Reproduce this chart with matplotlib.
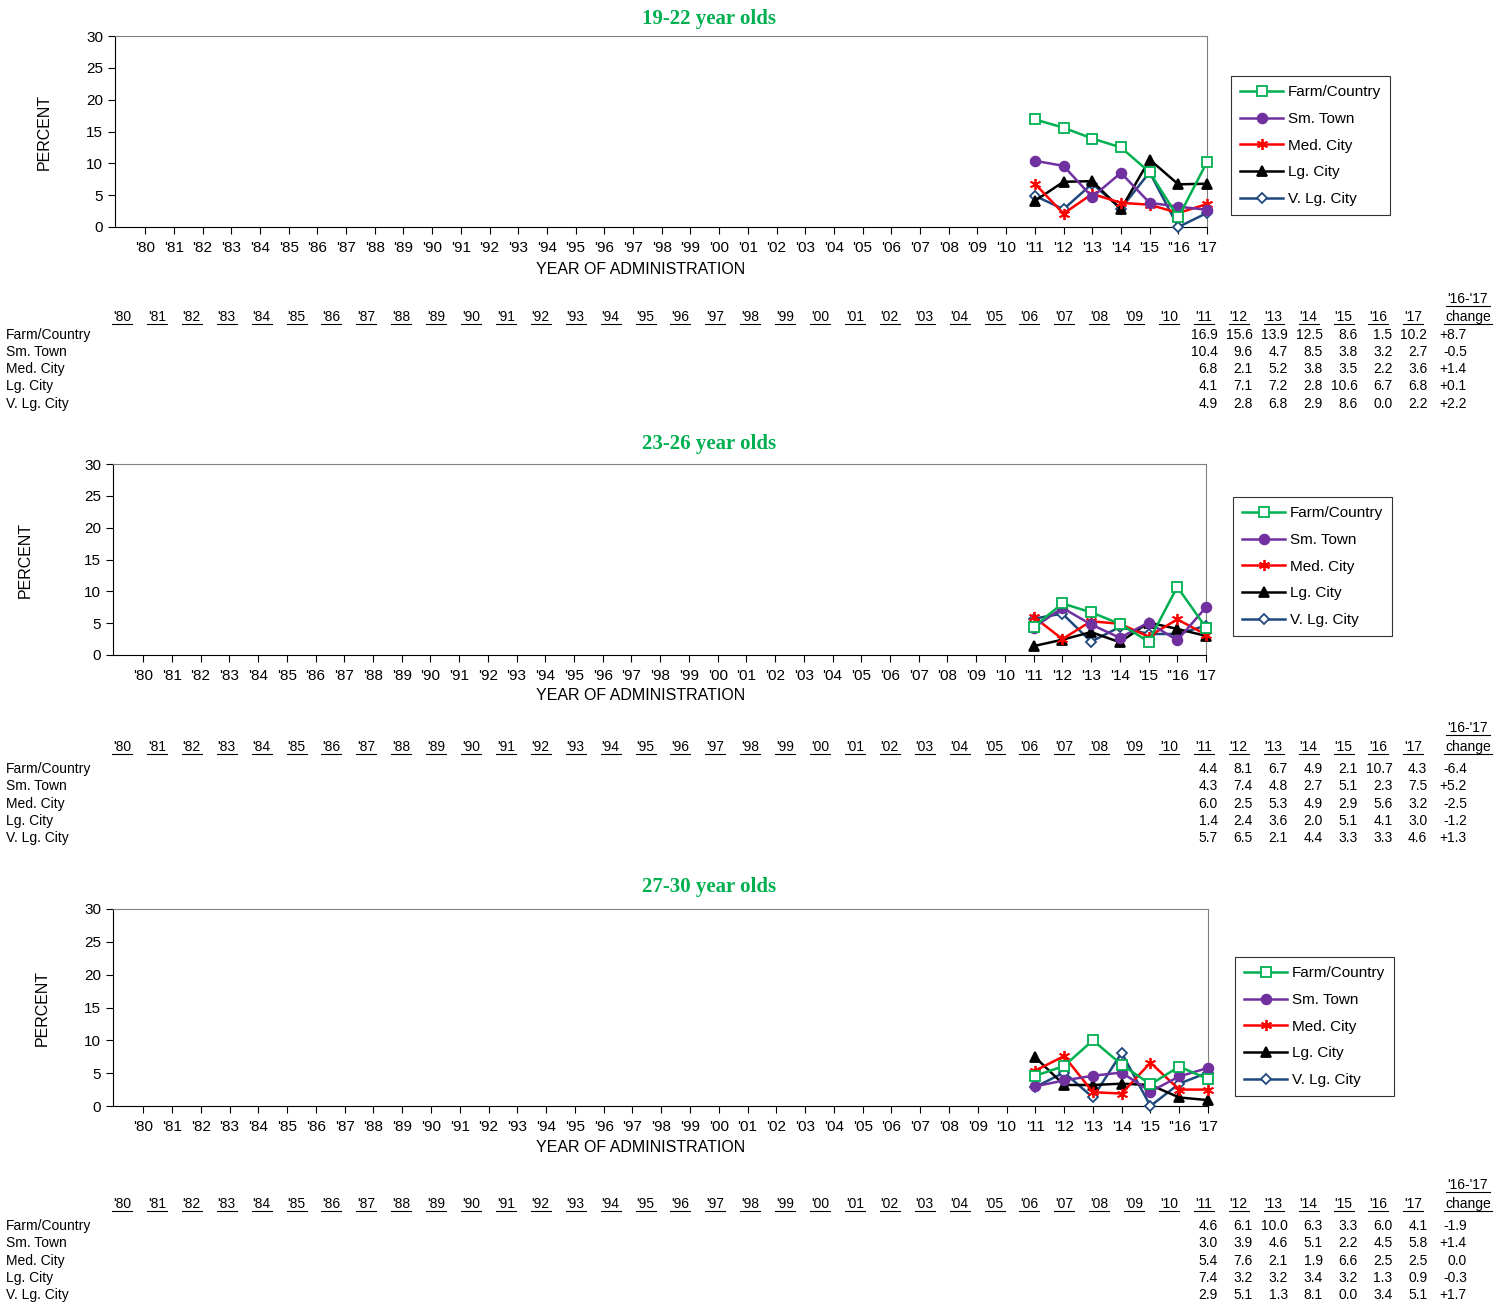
import matplotlib.pyplot as plt
from matplotlib.lines import Line2D

plt.rcParams['font.family'] = ['Liberation Sans', 'DejaVu Sans']

# Categories
years = ["'80", "'81", "'82", "'83", "'84", "'85", "'86", "'87", "'88", "'89",
         "'90", "'91", "'92", "'93", "'94", "'95", "'96", "'97", "'98", "'99",
         "'00", "'01", "'02", "'03", "'04", "'05", "'06", "'07", "'08", "'09",
         "'10", "'11", "'12", "'13", "'14", "'15", "'16", "'17"]
tick_labels = years[:36] + ["''16", "'17"]
data_years = ["'11", "'12", "'13", "'14", "'15", "'16", "'17"]
groups = ["Farm/Country", "Sm. Town", "Med. City", "Lg. City", "V. Lg. City"]
titles = ["19-22 year olds", "23-26 year olds", "27-30 year olds"]

# Values per panel (rows follow groups)
vals_19_22 = [[16.9, 15.6, 13.9, 12.5, 8.6, 1.5, 10.2],
              [10.4, 9.6, 4.7, 8.5, 3.8, 3.2, 2.7],
              [6.8, 2.1, 5.2, 3.8, 3.5, 2.2, 3.6],
              [4.1, 7.1, 7.2, 2.8, 10.6, 6.7, 6.8],
              [4.9, 2.8, 6.8, 2.9, 8.6, 0.0, 2.2]]
change_19_22 = ["+8.7", "-0.5", "+1.4", "+0.1", "+2.2"]

vals_23_26 = [[4.4, 8.1, 6.7, 4.9, 2.1, 10.7, 4.3],
              [4.3, 7.4, 4.8, 2.7, 5.1, 2.3, 7.5],
              [6.0, 2.5, 5.3, 4.9, 2.9, 5.6, 3.2],
              [1.4, 2.4, 3.6, 2.0, 5.1, 4.1, 3.0],
              [5.7, 6.5, 2.1, 4.4, 3.3, 3.3, 4.6]]
change_23_26 = ["-6.4", "+5.2", "-2.5", "-1.2", "+1.3"]

vals_27_30 = [[4.6, 6.1, 10.0, 6.3, 3.3, 6.0, 4.1],
              [3.0, 3.9, 4.6, 5.1, 2.2, 4.5, 5.8],
              [5.4, 7.6, 2.1, 1.9, 6.6, 2.5, 2.5],
              [7.4, 3.2, 3.2, 3.4, 3.2, 1.3, 0.9],
              [2.9, 5.1, 1.3, 8.1, 0.0, 3.4, 5.1]]
change_27_30 = ["-1.9", "+1.4", "0.0", "-0.3", "+1.7"]

panel_vals = [vals_19_22, vals_23_26, vals_27_30]
panel_change = [change_19_22, change_23_26, change_27_30]

colors = ['#00B050', '#7030A0', '#FF0000', '#000000', '#1F497D']
markers = ['s', 'o', (6, 2, 0), '^', 'D']
mfaces = ['white', '#7030A0', '#FF0000', '#000000', 'white']
msizes = [6.5, 7, 8, 7, 5]

W, H = 1494, 1304
fig = plt.figure(figsize=(W / 100, H / 100), dpi=100)


def rect(x0, y0, x1, y1):
    return [x0 / W, 1 - y1 / H, (x1 - x0) / W, (y1 - y0) / H]


def fx(x):
    return x / W


def fy(y):
    return 1 - y / H


# layout per panel (pixels): axes box, title y, ylabel x, xlabel y, legend top-left, table y's
layouts = [
    dict(ax=(115, 36, 1207, 227), title=19, ylab=44, xlab=269, leg=(1231, 76),
         top=299, head=317, rows=[335, 352, 369, 386, 404]),
    dict(ax=(113, 464, 1206, 655), title=444, ylab=25, xlab=695, leg=(1233, 497),
         top=728, head=747, rows=[769, 786, 804, 821, 838]),
    dict(ax=(113, 909, 1208, 1106), title=887, ylab=42, xlab=1148, leg=(1235, 957),
         top=1185, head=1204, rows=[1226, 1243, 1261, 1278, 1295]),
]

xpos = list(range(len(years)))
data_x = [years.index(y) for y in data_years]

for p, lay in enumerate(layouts):
    ax = fig.add_axes(rect(*lay['ax']))
    for i, g in enumerate(groups):
        ax.plot(data_x, panel_vals[p][i], color=colors[i], marker=markers[i],
                markerfacecolor=mfaces[i], markeredgecolor=colors[i],
                markersize=msizes[i], markeredgewidth=1.3, linewidth=1.8,
                label=g, clip_on=False, zorder=3 + (4 - i) * 0.1)
    ax.set_xlim(-1.05, 37)
    ax.set_ylim(0, 30)
    ax.set_yticks(range(0, 31, 5))
    ax.set_xticks(xpos)
    ax.set_xticklabels(tick_labels, fontsize=11)
    ax.tick_params(axis='y', labelsize=11, direction='out', length=5)
    ax.tick_params(axis='x', direction='out', length=5, pad=5)
    for s in ['top', 'right']:
        ax.spines[s].set_color('#808080')
    for s in ['left', 'bottom']:
        ax.spines[s].set_color('black')

    fig.text(fx(709), fy(lay['title']), titles[p], ha='center', va='center',
             fontsize=15, fontweight='bold', color='#00B050', family='Liberation Serif')
    fig.text(fx(lay['ylab']), fy((lay['ax'][1] + lay['ax'][3]) / 2), 'PERCENT',
             rotation=90, ha='center', va='center', fontsize=11.5)
    fig.text(fx(641), fy(lay['xlab']), 'YEAR OF ADMINISTRATION', ha='center',
             va='center', fontsize=11.5)

    lx, ly = lay['leg']
    leg = ax.legend(loc='upper left', bbox_to_anchor=(fx(lx), fy(ly)),
                    bbox_transform=fig.transFigure, frameon=True, fancybox=False,
                    fontsize=11, handlelength=2.8, labelspacing=0.83,
                    borderpad=0.6, handletextpad=0.3, borderaxespad=0)
    leg.get_frame().set_edgecolor('black')
    leg.get_frame().set_linewidth(0.8)

    # data table
    step = 34.9
    for j, y in enumerate(years):
        cx = 122 + j * step
        fig.text(fx(cx), fy(lay['head']), y, ha='center', va='center', fontsize=10)
        fig.add_artist(Line2D([fx(cx - 10), fx(cx + 10)],
                              [fy(lay['head'] + 7), fy(lay['head'] + 7)],
                              color='black', linewidth=0.8))
    cxc = 1468
    fig.text(fx(cxc), fy(lay['top']), "'16-'17", ha='center', va='center', fontsize=10)
    fig.text(fx(cxc), fy(lay['head']), 'change', ha='center', va='center', fontsize=10)
    for yy, hw in [(lay['top'], 22), (lay['head'], 24)]:
        fig.add_artist(Line2D([fx(cxc - hw), fx(cxc + hw)], [fy(yy + 7), fy(yy + 7)],
                              color='black', linewidth=0.8))
    for i, g in enumerate(groups):
        ry = lay['rows'][i]
        fig.text(fx(6), fy(ry), g, ha='left', va='center', fontsize=10)
        for k, v in enumerate(panel_vals[p][i]):
            cx = 122 + data_x[k] * step
            fig.text(fx(cx + 14), fy(ry), f'{v:.1f}', ha='right', va='center', fontsize=10)
        fig.text(fx(1467), fy(ry), panel_change[p][i], ha='right', va='center', fontsize=10)

fig.savefig('out.png', dpi=100)
